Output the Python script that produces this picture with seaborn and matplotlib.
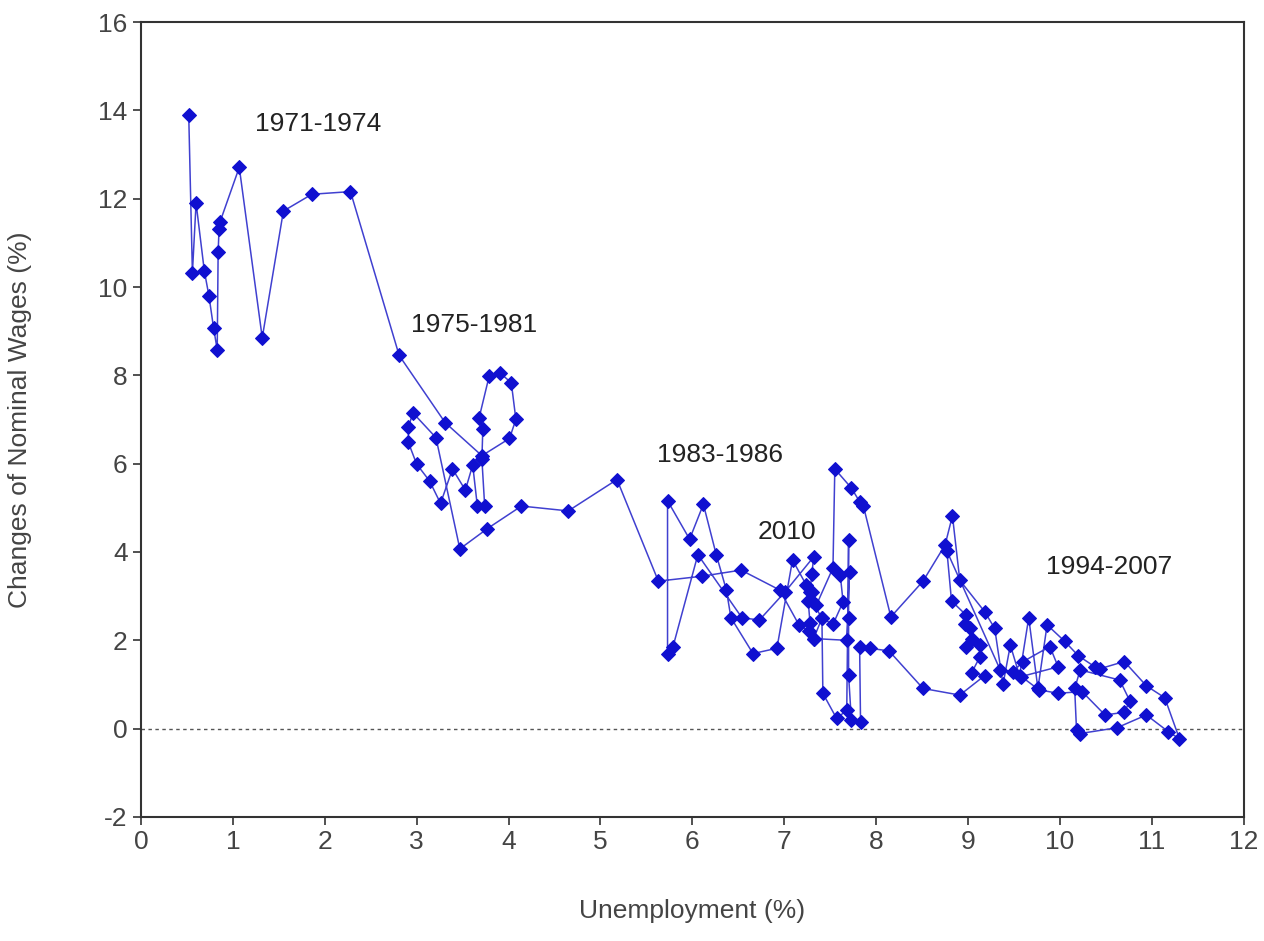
import matplotlib
matplotlib.use("Agg")
import matplotlib.pyplot as plt
import seaborn as sns
import pandas as pd

# Time path, unemployment (%) and nominal wage change (%)
unemployment = [
    0.52, 0.56, 0.60, 0.69, 0.74, 0.79, 0.83, 0.84, 0.85, 0.86, 1.07, 1.32, 1.55, 1.86, 2.28, 2.81,
    3.31, 3.71, 4.01, 4.08, 4.03, 3.91, 3.79, 3.68, 3.72, 3.71, 3.74, 3.66, 3.61, 3.53, 3.39, 3.26,
    3.14, 3.00, 2.91, 2.91, 2.96, 3.21, 3.47, 3.77, 4.14, 4.65,
    5.18, 5.63, 6.10, 6.53, 6.95, 7.16, 7.27, 7.32, 7.41, 7.30, 7.24, 7.09, 6.92, 6.66, 6.42, 6.37,
    6.26, 6.12, 5.97, 5.73, 5.73, 5.79, 6.06, 6.54, 6.73, 7.01, 7.32, 7.30, 7.28, 7.35, 7.53, 7.55,
    7.73, 7.82, 7.86, 8.16, 8.51, 8.75, 8.83, 8.91, 9.18, 9.29, 9.38, 9.46, 9.56, 9.66, 9.76, 9.86,
    10.05, 10.20, 10.38, 10.44, 10.70, 10.94, 11.14, 11.30, 11.18, 10.94, 10.62, 10.22, 10.18, 10.16,
    10.22, 10.65, 10.76, 10.70, 10.49, 10.24, 9.98, 9.77, 9.58, 9.98, 9.89, 9.60, 9.49, 9.35,
    8.77, 8.82, 8.98, 8.97, 9.02, 9.04, 8.98, 9.13, 9.13, 9.04, 9.18, 8.91, 8.51, 8.14, 7.93, 7.82,
    7.83, 7.73, 7.70, 7.70, 7.70, 7.68, 7.57, 7.42, 7.41, 7.53, 7.64, 7.61, 7.71, 7.68, 7.32, 7.28,
    7.26, 7.30,
]
wage_change = [
    13.90, 10.32, 11.90, 10.36, 9.80, 9.08, 8.58, 10.79, 11.32, 11.47, 12.71, 8.85, 11.72, 12.10, 12.16, 8.45,
    6.93, 6.18, 6.57, 7.00, 7.83, 8.05, 7.99, 7.04, 6.79, 6.10, 5.05, 5.05, 5.97, 5.40, 5.88, 5.10,
    5.61, 5.99, 6.48, 6.83, 7.15, 6.59, 4.07, 4.53, 5.04, 4.93,
    5.64, 3.34, 3.45, 3.59, 3.14, 2.35, 2.20, 2.04, 2.50, 2.90, 3.25, 3.82, 1.82, 1.70, 2.51, 3.14,
    3.94, 5.08, 4.29, 5.16, 1.70, 1.86, 3.94, 2.51, 2.46, 3.10, 3.89, 3.50, 3.10, 2.80, 3.64, 5.88,
    5.45, 5.14, 5.05, 2.53, 3.34, 4.16, 4.82, 3.36, 2.65, 2.27, 1.00, 1.89, 1.20, 2.51, 0.91, 2.35,
    1.98, 1.65, 1.40, 1.36, 1.52, 0.97, 0.70, -0.23, -0.07, 0.31, 0.02, -0.11, -0.03, 0.91,
    1.33, 1.10, 0.63, 0.37, 0.31, 0.84, 0.80, 0.88, 1.18, 1.40, 1.86, 1.52, 1.29, 1.33,
    4.02, 2.89, 2.57, 2.38, 2.27, 2.04, 1.85, 1.89, 1.63, 1.27, 1.20, 0.76, 0.91, 1.76, 1.82, 1.86,
    0.14, 0.20, 1.21, 2.50, 4.27, 0.42, 0.23, 0.80, 2.50, 2.36, 2.87, 3.47, 3.55, 2.00, 2.04, 2.40,
    2.90, 3.10,
]

period_labels = ["1971-1974", "1975-1981", "1983-1986", "2010", "1994-2007"]
label_x = [1.93, 3.62, 6.30, 7.03, 10.54]
label_y = [13.7, 9.14, 6.20, 4.46, 3.67]

x_ticks = list(range(0, 13))
y_ticks = list(range(-2, 17, 2))

df = pd.DataFrame({"u": unemployment, "w": wage_change, "t": range(len(unemployment))})

sns.set_style("white")
plt.rcParams["font.family"] = ["Liberation Sans", "DejaVu Sans"]
plt.rcParams["axes.unicode_minus"] = False

fig = plt.figure(figsize=(12.64, 9.41), dpi=100)
ax = fig.add_axes([0.1115, 0.1318, 0.8725, 0.8448])

ax.axhline(0, color="#555555", lw=1.0, ls=(0, (2.5, 2.5)), zorder=1)

sns.lineplot(data=df, x="u", y="w", sort=False, estimator=None, ax=ax,
             color="#4040d0", lw=1.1, marker="D", markersize=7.5,
             markerfacecolor="#1010d0", markeredgecolor="#1010d0", zorder=3)

for txt, lx, ly in zip(period_labels, label_x, label_y):
    ax.text(lx, ly, txt, ha="center", va="center", fontsize=19, color="#222222")

ax.set_xlim(0, 12)
ax.set_ylim(-2, 16)
ax.set_xticks(x_ticks)
ax.set_yticks(y_ticks)
ax.tick_params(axis="both", which="major", direction="out", length=6, width=1.2,
               color="#333333", labelsize=19, labelcolor="#444444", bottom=True, left=True)
for s in ax.spines.values():
    s.set_color("#333333")
    s.set_linewidth(1.5)
ax.set_xlabel("Unemployment (%)", fontsize=19, color="#444444", labelpad=32)
ax.set_ylabel("Changes of Nominal Wages (%)", fontsize=19, color="#444444", labelpad=48)
ax.grid(False)

fig.savefig("out.png", dpi=100)
